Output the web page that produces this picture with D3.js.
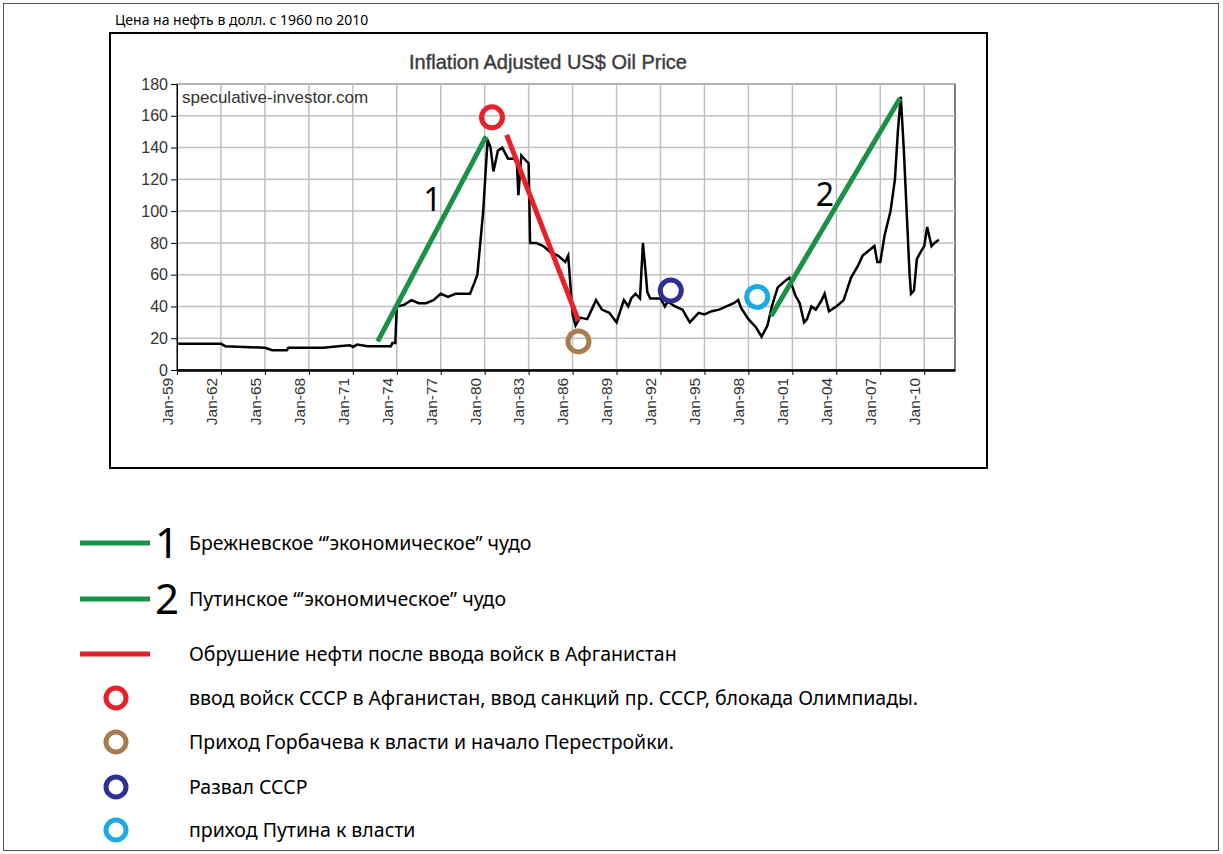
<!DOCTYPE html>
<html><head><meta charset="utf-8">
<script src="https://cdn.jsdelivr.net/npm/d3@7"></script>
<style>body{margin:0;background:#fff}</style></head>
<body><svg id="c" width="1223" height="854"></svg>
<script>
const priceYears=[1959,1962,1962.3,1965,1965.5,1966.5,1966.6,1969,1970,1970.8,1971,1971.3,1972,1973,1973.6,1973.7,1973.9,1974,1974.5,1975,1975.5,1976,1976.5,1977,1977.5,1978,1979,1979.3,1979.5,1979.7,1979.9,1980,1980.2,1980.4,1980.6,1980.9,1981.2,1981.6,1982,1982.2,1982.3,1982.5,1982.8,1983,1983.1,1983.5,1984,1984.5,1985,1985.5,1985.7,1986,1986.2,1986.5,1987,1987.3,1987.6,1988,1988.5,1989,1989.5,1989.8,1990,1990.3,1990.6,1990.8,1991,1991.1,1991.3,1991.6,1992,1992.3,1992.5,1993,1993.5,1994,1994.3,1994.6,1995,1995.5,1996,1996.5,1997,1997.3,1997.5,1998,1998.5,1998.9,1999.3,1999.6,2000,2000.5,2000.8,2001.2,2001.5,2001.8,2002,2002.3,2002.6,2003,2003.2,2003.5,2004,2004.5,2005,2005.5,2005.8,2006.2,2006.6,2006.8,2007,2007.3,2007.7,2008,2008.2,2008.4,2008.6,2008.8,2009,2009.1,2009.3,2009.5,2009.8,2010,2010.2,2010.5,2010.7,2011];
const priceValues=[16.5,16.5,15,14,12.5,12.5,14,14,15,15.5,14.5,16,15,15,15,17,17,40,41,44,42,42,44,48,46,48,48,55,60,80,100,115,145,140,125,138,140,133,133,130,110,135,132,130,80,80,78,74,72,68,72,35,28,33,32,38,44,38,36,30,44,40,45,48,45,80,60,49,45,45,45,40,43,40,38,30,33,36,35,37,38,40,42,44,39,32,27,21,28,40,52,56,58,47,42,30,32,40,38,44,48,37,40,44,58,66,72,75,78,68,68,85,100,120,150,172,140,100,60,48,50,70,75,78,90,78,80,82];
const tickYears=[1959,1962,1965,1968,1971,1974,1977,1980,1983,1986,1989,1992,1995,1998,2001,2004,2007,2010];
const tickLabels=["Jan-59","Jan-62","Jan-65","Jan-68","Jan-71","Jan-74","Jan-77","Jan-80","Jan-83","Jan-86","Jan-89","Jan-92","Jan-95","Jan-98","Jan-01","Jan-04","Jan-07","Jan-10"];
const yTicks=[0,20,40,60,80,100,120,140,160,180];
const trendLines=[{from:[1972.7,18],to:[1980.1,147],color:"#1a9145"},{from:[1981.5,148],to:[1986.4,31],color:"#e8202a"},{from:[1999.55,34],to:[2008.35,171],color:"#1a9145"}];
const trendLabels=[{t:"1",at:[1975.8,100]},{t:"2",at:[2002.6,103]}];
const events=[{at:[1980.5,159],color:"#e8202a"},{at:[1986.4,18],color:"#a87c4f"},{at:[1992.7,50],color:"#2e3192"},{at:[1998.6,46],color:"#1ea9e6"}];
const legendItems=[
 {type:"line",color:"#1a9145",num:"1",text:"Брежневское “’экономическое” чудо"},
 {type:"line",color:"#1a9145",num:"2",text:"Путинское “’экономическое” чудо"},
 {type:"line",color:"#e8202a",num:"",text:"Обрушение нефти после ввода войск в Афганистан"},
 {type:"circle",color:"#e8202a",text:"ввод войск СССР в Афганистан, ввод санкций пр. СССР, блокада Олимпиады."},
 {type:"circle",color:"#a87c4f",text:"Приход Горбачева к власти и начало Перестройки."},
 {type:"circle",color:"#2e3192",text:"Развал СССР"},
 {type:"circle",color:"#1ea9e6",text:"приход Путина к власти"}];
const legendY=[543,599,654,698,742,787,830];

const svg=d3.select("#c");
svg.append("rect").attr("x",3.5).attr("y",3.5).attr("width",1215).attr("height",847).attr("fill","none").attr("stroke","#555").attr("stroke-width",1);
svg.append("text").attr("x",115).attr("y",25).attr("font-family","Noto Sans").attr("font-size",14).text("Цена на нефть в долл. с 1960 по 2010");
svg.append("rect").attr("x",110).attr("y",33).attr("width",877).attr("height",435).attr("fill","#fff").attr("stroke","#000").attr("stroke-width",2);
svg.append("text").attr("x",548).attr("y",69).attr("text-anchor","middle").attr("font-family","Liberation Sans").attr("font-size",20).attr("fill","#333").attr("stroke","#555").attr("stroke-width",0.5).text("Inflation Adjusted US$ Oil Price");

const x=d3.scaleLinear().domain([1959,2012.1]).range([177,955]);
const y=d3.scaleLinear().domain([0,180]).range([370,84]);
const g=svg.append("g");
g.append("rect").attr("x",177).attr("y",84).attr("width",778).attr("height",286).attr("fill","none").attr("stroke","#000").attr("stroke-width",1);
g.selectAll(".vg").data(tickYears.slice(1)).join("line").attr("x1",d=>x(d)).attr("x2",d=>x(d)).attr("y1",84).attr("y2",370).attr("stroke","#c0c0c0").attr("stroke-width",1.5);
g.selectAll(".hg").data(yTicks.slice(1)).join("line").attr("x1",177).attr("x2",955).attr("y1",d=>y(d)).attr("y2",d=>y(d)).attr("stroke","#c0c0c0").attr("stroke-width",1.5);
const ya=g.append("g").attr("transform","translate(177,0)").call(d3.axisLeft(y).tickValues(yTicks).tickSize(6).tickSizeOuter(0));
ya.selectAll("text").attr("font-family","Liberation Sans").attr("font-size",16).attr("fill","#333");
const xa=g.append("g").attr("transform","translate(0,370)").call(d3.axisBottom(x).tickValues(tickYears).tickFormat((d,i)=>tickLabels[i]).tickSize(5).tickSizeOuter(0));
xa.select(".domain").attr("stroke-width",2.5);
xa.selectAll("text").attr("font-family","Liberation Sans").attr("font-size",15.5).attr("fill","#333")
 .attr("transform","rotate(-90)").attr("text-anchor","end").attr("dx","-0.5em").attr("dy","-0.3em").attr("x",0).attr("y",0);
g.append("text").attr("x",182).attr("y",103).attr("font-family","Liberation Sans").attr("font-size",17).attr("fill","#333").text("speculative-investor.com");

const pts=priceYears.map((d,i)=>[d,priceValues[i]]);
g.append("path").datum(pts).attr("fill","none").attr("stroke","#000").attr("stroke-width",2.5)
 .attr("d",d3.line().x(d=>x(d[0])).y(d=>y(d[1])));
trendLines.forEach(t=>g.append("line").attr("x1",x(t.from[0])).attr("y1",y(t.from[1])).attr("x2",x(t.to[0])).attr("y2",y(t.to[1])).attr("stroke",t.color).attr("stroke-width",5));
trendLabels.forEach(t=>g.append("text").attr("x",x(t.at[0])).attr("y",y(t.at[1])).attr("font-family","Noto Sans").attr("font-size",32).text(t.t));
events.forEach(e=>g.append("circle").attr("cx",x(e.at[0])).attr("cy",y(e.at[1])).attr("r",10.5).attr("fill","none").attr("stroke",e.color).attr("stroke-width",5));

const lg=svg.append("g");
legendItems.forEach((it,i)=>{
 const yy=legendY[i];
 if(it.type==="line") lg.append("line").attr("x1",80).attr("x2",150).attr("y1",yy).attr("y2",yy).attr("stroke",it.color).attr("stroke-width",5);
 else lg.append("circle").attr("cx",116).attr("cy",yy).attr("r",10).attr("fill","none").attr("stroke",it.color).attr("stroke-width",5);
 if(it.num) lg.append("text").attr("x",155).attr("y",yy+15).attr("font-family","Noto Sans").attr("font-size",42).text(it.num);
 lg.append("text").attr("x",189).attr("y",yy+7).attr("font-family","Noto Sans").attr("font-size",19.5).text(it.text);
});
</script></body></html>
